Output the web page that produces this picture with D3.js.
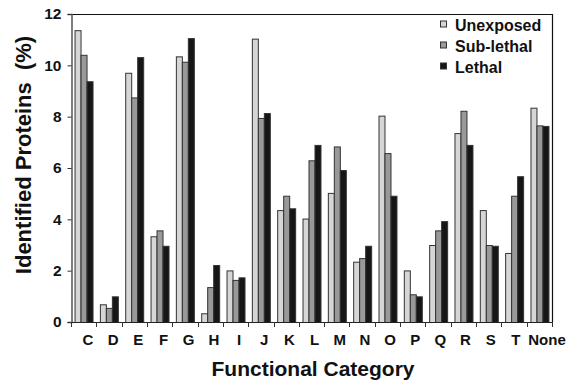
<!DOCTYPE html>
<html>
<head>
<meta charset="utf-8">
<script src="https://cdn.jsdelivr.net/npm/d3@7"></script>
<style>
  body { margin: 0; background: #fff; }
  text { font-family: "Liberation Sans", Arial, sans-serif; font-weight: bold; fill: #111; }
</style>
</head>
<body>
<svg id="chart" width="567" height="381"></svg>
<script>
// DATA
var categories = ["C","D","E","F","G","H","I","J","K","L","M","N","O","P","Q","R","S","T","None"];
var seriesNames = ["Unexposed", "Sub-lethal", "Lethal"];
var unexposed = [11.37, 0.69, 9.71, 3.34, 10.35, 0.34, 2.01, 11.04, 4.36, 4.03, 5.03, 2.35, 8.04, 2.01, 3.0, 7.36, 4.36, 2.69, 8.35];
var subLethal = [10.41, 0.55, 8.75, 3.57, 10.14, 1.36, 1.64, 7.95, 4.92, 6.30, 6.84, 2.49, 6.58, 1.08, 3.57, 8.23, 3.0, 4.92, 7.66];
var lethal = [9.38, 1.0, 10.32, 2.97, 11.06, 2.22, 1.74, 8.14, 4.43, 6.90, 5.92, 2.97, 4.92, 1.0, 3.93, 6.90, 2.97, 5.68, 7.64];
var yTicks = [0, 2, 4, 6, 8, 10, 12];

var seriesValues = [unexposed, subLethal, lethal];
var colors = ["#d6d6d6", "#999999", "#161616"];

// LAYOUT
var svg = d3.select("#chart");
var mLeft = 71, mRight = 552, mTop = 14, mBottom = 322;

var x = d3.scaleBand().domain(categories).range([mLeft, mRight]).paddingInner(0.29).paddingOuter(0.14);
var xs = d3.scaleBand().domain(seriesNames).range([0, x.bandwidth()]);
var y = d3.scaleLinear().domain([0, 12]).range([mBottom, mTop]);
// category labels sit on their own slightly narrower spacing
var xLabel = d3.scalePoint().domain(categories).range([88, 541]);

// bars
var rows = [];
categories.forEach(function (c, i) {
    seriesNames.forEach(function (s, j) {
        rows.push({ cat: c, series: s, value: seriesValues[j][i], color: colors[j] });
    });
});

svg.append("g").selectAll("rect")
    .data(rows)
    .enter().append("rect")
    .attr("x", function (d) { return x(d.cat) + xs(d.series) + 0.5; })
    .attr("y", function (d) { return y(d.value) + 0.5; })
    .attr("width", xs.bandwidth())
    .attr("height", function (d) { return mBottom - y(d.value); })
    .attr("fill", function (d) { return d.color; })
    .attr("stroke", "#333")
    .attr("stroke-width", 1);

// frame top + right
svg.append("path")
    .attr("d", "M" + mLeft + "," + (mTop + 0.5) + "H" + (mRight + 0.5) + "V" + mBottom)
    .attr("fill", "none").attr("stroke", "#111").attr("stroke-width", 1.2);

// y axis
var yAxis = svg.append("g")
    .attr("transform", "translate(" + (mLeft + 0.5) + ",0)")
    .call(d3.axisLeft(y).tickValues(yTicks).tickSize(4).tickPadding(6).tickFormat(d3.format("d")));
yAxis.select(".domain").attr("stroke", "#555").attr("stroke-width", 1.5);
yAxis.selectAll(".tick line").attr("stroke", "#333");
yAxis.selectAll("text").style("font-size", "15.5px").attr("fill", "#111");

// x axis: ticks at band boundaries
var bounds = categories.map(function (c) { return x(c) - x.step() * x.paddingInner() / 2; });
bounds.push(mRight);
svg.append("line")
    .attr("x1", mLeft).attr("x2", mRight + 0.5)
    .attr("y1", mBottom + 0.5).attr("y2", mBottom + 0.5)
    .attr("stroke", "#222").attr("stroke-width", 1.2);
svg.append("g").selectAll("line")
    .data(bounds)
    .enter().append("line")
    .attr("x1", function (d) { return Math.round(d) + 0.5; })
    .attr("x2", function (d) { return Math.round(d) + 0.5; })
    .attr("y1", mBottom).attr("y2", mBottom + 5)
    .attr("stroke", "#333");

svg.append("g").selectAll("text")
    .data(categories)
    .enter().append("text")
    .attr("x", function (d) { return xLabel(d) + (d === "None" ? 6 : 0); })
    .attr("y", 345)
    .attr("text-anchor", "middle")
    .style("font-size", "15px")
    .text(function (d) { return d; });

// titles
svg.append("text")
    .attr("x", 313).attr("y", 376)
    .attr("text-anchor", "middle")
    .style("font-size", "21px")
    .text("Functional Category");

svg.append("text")
    .attr("transform", "translate(31,155) rotate(-90)")
    .attr("text-anchor", "middle")
    .style("font-size", "22px")
    .style("white-space", "pre")
    .text("Identified Proteins  (%)");

// legend
var legend = svg.append("g").selectAll("g")
    .data(seriesNames)
    .enter().append("g")
    .attr("transform", function (d, i) { return "translate(440," + (24.5 + i * 21) + ")"; });
legend.append("rect")
    .attr("x", 0.5).attr("y", -3.5)
    .attr("width", 6).attr("height", 6)
    .attr("fill", function (d, i) { return colors[i]; })
    .attr("stroke", "#333");
legend.append("text")
    .attr("x", 15).attr("y", 6)
    .style("font-size", "16px")
    .text(function (d) { return d; });
</script>
</body>
</html>
